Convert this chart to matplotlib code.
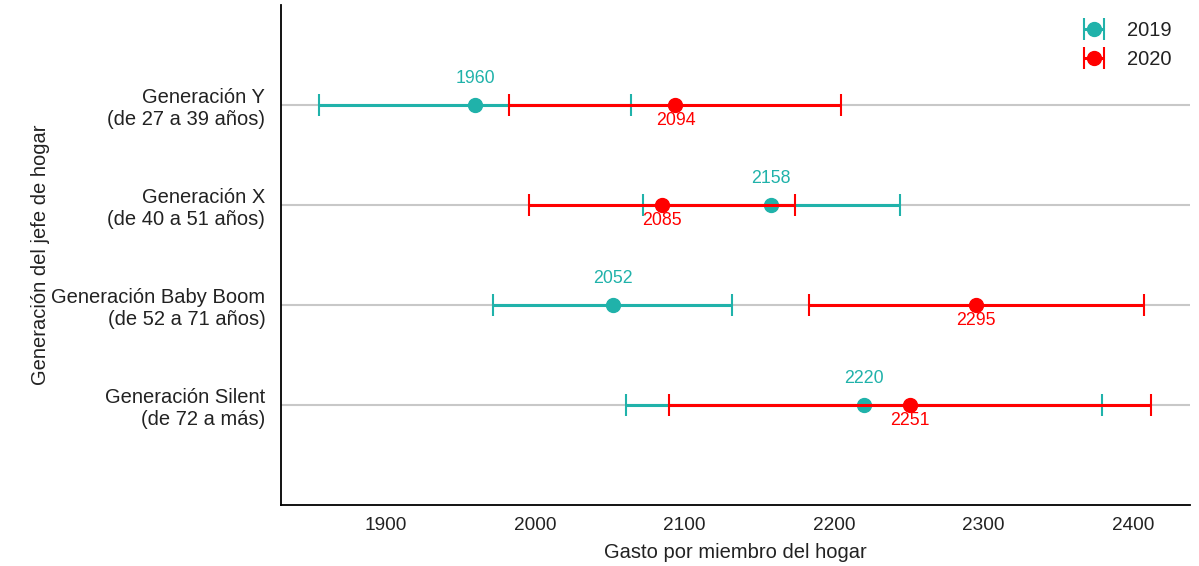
import matplotlib.pyplot as plt

plt.rcParams['font.family'] = ['Liberation Sans', 'DejaVu Sans']

generaciones = ["Generación Y\n(de 27 a 39 años)",
                "Generación X\n(de 40 a 51 años)",
                "Generación Baby Boom\n(de 52 a 71 años)",
                "Generación Silent\n(de 72 a más)"]
gasto_2019 = [1960, 2158, 2052, 2220]
error_2019 = [104, 86, 80, 159]
gasto_2020 = [2094, 2085, 2295, 2251]
error_2020 = [111, 89, 112, 161]

TEAL = '#20B2AA'
RED = '#FF0000'
TXT = '#222222'

pos = [4, 3, 2, 1]

fig = plt.figure(figsize=(11.99, 5.66), dpi=100)
ax = fig.add_axes([0.234, 0.108, 0.7585, 0.883])

for y in pos:
    ax.axhline(y, color='#c8c8c8', lw=1.5, zorder=0)

ax.errorbar(gasto_2019, pos, xerr=error_2019, fmt='o', color=TEAL, ms=10,
            elinewidth=2.2, capsize=8, capthick=1.5, label='2019', zorder=2)
ax.errorbar(gasto_2020, pos, xerr=error_2020, fmt='o', color=RED, ms=10,
            elinewidth=2.2, capsize=8, capthick=1.5, label='2020', zorder=3)

for x, y in zip(gasto_2019, pos):
    ax.annotate(str(x), (x, y), xytext=(0, 19), textcoords='offset points',
                ha='center', va='center', color=TEAL, fontsize=12.8)
for x, y in zip(gasto_2020, pos):
    ax.annotate(str(x), (x, y), xytext=(0, -11), textcoords='offset points',
                ha='center', va='center', color=RED, fontsize=12.8)

ax.set_xlim(1830, 2438)
ax.set_ylim(0, 5)
ax.set_xticks([1900, 2000, 2100, 2200, 2300, 2400])
ax.set_yticks(pos)
ax.set_yticklabels(generaciones, fontsize=14.5, color=TXT)
ax.tick_params(axis='x', labelsize=13.7, labelcolor=TXT, length=0, pad=9)
ax.tick_params(axis='y', length=0, pad=11)
ax.set_xlabel("Gasto por miembro del hogar", fontsize=14.5, color=TXT, labelpad=6)
ax.set_ylabel("Generación del jefe de hogar", fontsize=14.5, color=TXT, labelpad=1)

ax.spines['top'].set_visible(False)
ax.spines['right'].set_visible(False)
ax.spines['left'].set_linewidth(1.3)
ax.spines['bottom'].set_linewidth(1.3)

leg = ax.legend(loc='upper right', frameon=False, fontsize=14.5, handletextpad=0.65,
                borderaxespad=0.4, labelspacing=0.5, bbox_to_anchor=(0.998, 1.0))
for t in leg.get_texts():
    t.set_color(TXT)

fig.savefig('out.png', dpi=100)
